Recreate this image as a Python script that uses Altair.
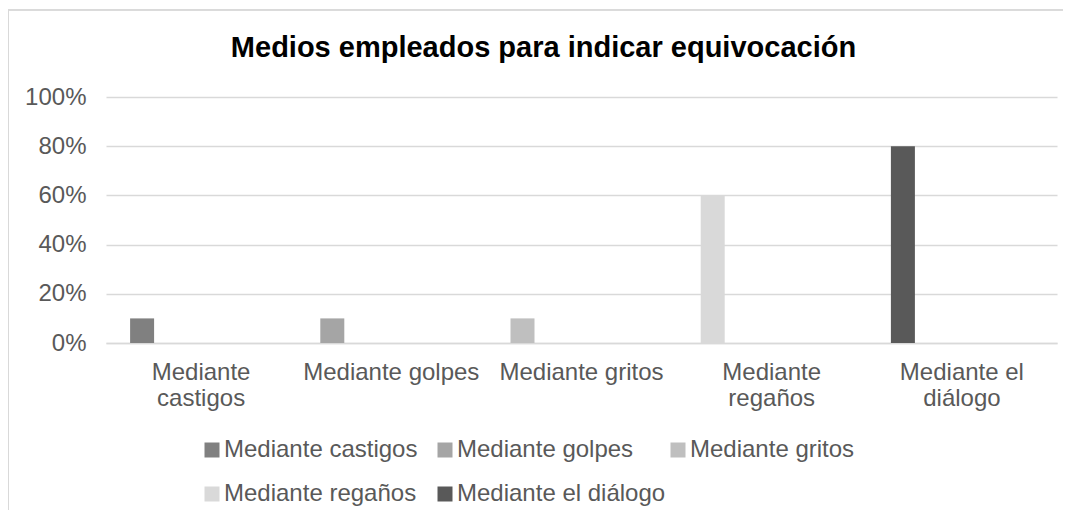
import altair as alt
import pandas as pd

# ---- data ----
categories = ["Mediante castigos", "Mediante golpes", "Mediante gritos",
              "Mediante regaños", "Mediante el diálogo"]
values = [0.10, 0.10, 0.10, 0.60, 0.80]
series = ["Mediante castigos", "Mediante golpes", "Mediante gritos",
          "Mediante regaños", "Mediante el diálogo"]
colors = ["#808080", "#a5a5a5", "#bfbfbf", "#d9d9d9", "#595959"]
tick_labels = [["Mediante", "castigos"], ["Mediante golpes"], ["Mediante gritos"],
               ["Mediante", "regaños"], ["Mediante el", "diálogo"]]
y_ticks = [0, 0.2, 0.4, 0.6, 0.8, 1.0]

df = pd.DataFrame({"categoria": categories, "serie": series, "valor": values})

# multi-line tick labels
expr = "datum.label"
for cat, lines in reversed(list(zip(categories, tick_labels))):
    arr = "[" + ",".join("'" + l + "'" for l in lines) + "]"
    expr = f"datum.label == '{cat}' ? {arr} : ({expr})"

FONT = "Liberation Sans"
GREY = "#595959"
FS = 24

bars = alt.Chart(df).mark_bar(size=24, xOffset=-59).encode(
    x=alt.X("categoria:N", sort=categories, title=None,
            scale=alt.Scale(paddingInner=0, paddingOuter=0),
            axis=alt.Axis(labelAngle=0, labelExpr=expr, ticks=False, tickSize=0,
                          domain=True, domainColor="#d9d9d9", domainWidth=1.3,
                          labelFont=FONT, labelFontSize=FS, labelColor=GREY,
                          labelPadding=17, labelLineHeight=26, grid=False)),
    y=alt.Y("valor:Q", title=None,
            scale=alt.Scale(domain=[0, 1], nice=False),
            axis=alt.Axis(values=y_ticks, format=".0%", ticks=False, tickSize=0,
                          domain=False, grid=True, gridColor="#d9d9d9",
                          gridWidth=1.3, labelFont=FONT, labelFontSize=FS,
                          labelColor=GREY, labelPadding=20)),
    color=alt.Color("serie:N", sort=series,
                    scale=alt.Scale(domain=series, range=colors),
                    legend=alt.Legend(title=None, orient="none", legendX=94,
                                      legendY=341, columns=3, direction="horizontal",
                                      gridAlign="all", columnPadding=-1, padding=0,
                                      rowPadding=20, symbolType="square",
                                      symbolSize=225, symbolStrokeWidth=0,
                                      labelFont=FONT, labelFontSize=FS,
                                      labelColor=GREY, labelOffset=0,
                                      labelLimit=400)),
)

border_top = alt.Chart(df).mark_rule(color="#d9d9d9", strokeWidth=1).encode(
    x=alt.value(-98), x2=alt.value(957), y=alt.value(-87))
border_left = alt.Chart(df).mark_rule(color="#d9d9d9", strokeWidth=1).encode(
    x=alt.value(-97.5), y=alt.value(-87), y2=alt.value(413))

chart = alt.layer(border_top, border_left, bars).properties(
    width=951, height=246,
    autosize=alt.AutoSizeParams(type="none"),
    padding={"left": 98, "top": 89, "right": 6, "bottom": 167},
    title=alt.TitleParams("Medios empleados para indicar equivocación",
                          font=FONT, fontSize=29, fontWeight="bold",
                          color="#000000", anchor="middle", dx=-38,
                          baseline="alphabetic", offset=-76),
).configure_view(stroke=None)

chart.save("out.html", embed_options={"renderer": "svg", "actions": False})
